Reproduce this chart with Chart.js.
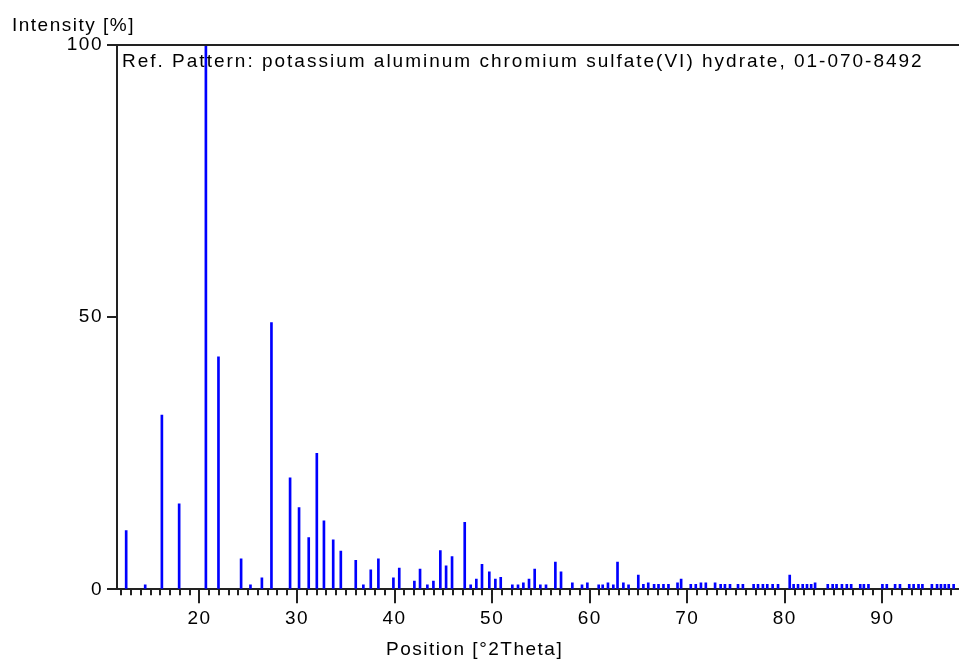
<!DOCTYPE html>
<html>
<head>
<meta charset="utf-8">
<script src="https://cdn.jsdelivr.net/npm/chart.js"></script>
<style>
  html, body { margin: 0; background: #fff; }
  #wrap { width: 959px; height: 662px; position: relative; }
</style>
</head>
<body>
<div id="wrap"><canvas id="c"></canvas></div>
<script>
// reference pattern sticks
const POSITIONS = [
  12.49, 14.44, 16.15, 17.92, 20.66, 21.95, 24.27, 25.23, 26.4, 27.38,
  29.29, 30.21, 31.2, 32.03, 32.76, 33.71, 34.49, 36.02, 36.8, 37.56,
  38.34, 39.88, 40.48, 42.03, 42.61, 43.36, 43.98, 44.69, 45.28, 45.89,
  47.19, 47.8, 48.38, 48.96, 49.71, 50.33, 50.88, 52.07, 52.65, 53.2,
  53.78, 54.36, 54.94, 55.52, 56.48, 57.06, 58.22, 59.21, 59.76, 60.92,
  61.33, 61.87, 62.42, 62.85, 63.45, 63.98, 64.98, 65.5, 66.0, 66.6,
  67.05, 67.56, 68.07, 69.0, 69.37, 70.36, 70.87, 71.4, 71.9, 72.85,
  73.42, 73.86, 74.38, 75.2, 75.7, 76.8, 77.25, 77.75, 78.2, 78.75,
  79.3, 80.5, 80.9, 81.35, 81.83, 82.27, 82.7, 83.1, 84.4, 84.9,
  85.3, 85.85, 86.35, 86.8, 87.73, 88.1, 88.57, 90.0, 90.45, 91.3,
  91.8, 92.75, 93.2, 93.7, 94.1, 95.07, 95.6, 96.0, 96.4, 96.8, 97.3
];
const INTENSITIES = [
  10.8, 0.8, 32.0, 15.7, 100, 42.7, 5.6, 0.8, 2.1, 49.0,
  20.5, 15.0, 9.5, 25.0, 12.6, 9.1, 7.0, 5.3, 0.8, 3.6,
  5.6, 2.1, 3.9, 1.5, 3.7, 0.8, 1.5, 7.1, 4.3, 6.0,
  12.3, 0.8, 1.9, 4.6, 3.2, 1.9, 2.2, 0.8, 0.8, 1.2,
  1.9, 3.7, 0.8, 0.8, 5.0, 3.2, 1.2, 0.8, 1.2, 0.8,
  0.8, 1.2, 0.8, 5.0, 1.2, 0.8, 2.6, 0.9, 1.2, 0.9,
  0.9, 0.9, 0.9, 1.2, 1.9, 0.9, 0.9, 1.2, 1.2, 1.2,
  0.9, 0.9, 0.9, 0.9, 0.9, 0.9, 0.9, 0.9, 0.9, 0.9,
  0.9, 2.6, 0.9, 0.9, 0.9, 0.9, 0.9, 1.2, 0.9, 0.9,
  0.9, 0.9, 0.9, 0.9, 0.9, 0.9, 0.9, 0.9, 0.9, 0.9,
  0.9, 0.9, 0.9, 0.9, 0.9, 0.9, 0.9, 0.9, 0.9, 0.9, 0.9
];
const TITLE = 'Ref. Pattern: potassium aluminum chromium sulfate(VI) hydrate, 01-070-8492';
const Y_TITLE = 'Intensity [%]';
const X_TITLE = 'Position [°2Theta]';
const X_MIN = 11.55, X_MAX = 97.85;
const FONT = "'Liberation Sans', Arial, sans-serif";
const AXIS = '#222';

// frame top line, minor ticks and the texts
const framePlugin = {
  id: 'xrdFrame',
  beforeDraw(chart) { chart.ctx.letterSpacing = '1.5px'; },
  afterDraw(chart) {
    const {ctx, chartArea: a, scales: {x}} = chart;
    ctx.save();
    ctx.strokeStyle = AXIS;
    ctx.lineWidth = 2;
    ctx.beginPath();
    ctx.moveTo(a.left - 2, a.top);
    ctx.lineTo(a.right, a.top);
    ctx.stroke();
    ctx.beginPath();
    for (let v = Math.ceil(X_MIN); v <= X_MAX; v++) {
      if (v % 10 === 0) continue;
      const px = Math.round(x.getPixelForValue(v));
      ctx.moveTo(px, a.bottom);
      ctx.lineTo(px, a.bottom + 6);
    }
    ctx.stroke();
    ctx.fillStyle = '#000';
    ctx.font = '19px ' + FONT;
    ctx.textBaseline = 'alphabetic';
    ctx.textAlign = 'left';
    ctx.letterSpacing = '2px';
    ctx.fillText(TITLE, a.left + 5, a.top + 22);
    ctx.letterSpacing = '1.5px';
    ctx.fillText(Y_TITLE, 12, 30.5);
    ctx.fillText(X_TITLE, 386, 655);
    ctx.restore();
  }
};

new Chart(document.getElementById('c'), {
  type: 'bar',
  data: {
    datasets: [{
      data: POSITIONS.map((p, i) => ({x: p, y: INTENSITIES[i]})),
      backgroundColor: '#0000ff',
      borderWidth: 0,
      barThickness: 2
    }]
  },
  options: {
    responsive: true,
    maintainAspectRatio: false,
    animation: false,
    layout: {padding: {top: 45, right: 0, bottom: 0, left: 0}},
    plugins: {legend: {display: false}, tooltip: {enabled: false}},
    scales: {
      x: {
        type: 'linear', position: 'bottom',
        min: X_MIN, max: X_MAX, offset: false,
        ticks: {stepSize: 10, includeBounds: false, autoSkip: false, maxRotation: 0,
                font: {family: FONT, size: 19}, color: '#000', padding: 4},
        grid: {drawOnChartArea: false, offset: false, tickLength: 14, color: AXIS, lineWidth: 2},
        border: {display: true, color: AXIS, width: 2},
        afterFit: s => { s.height = 72.7; }
      },
      y: {
        min: 0, max: 100,
        ticks: {stepSize: 50, font: {family: FONT, size: 19}, color: '#000', padding: 4},
        grid: {drawOnChartArea: false, tickLength: 10, color: AXIS, lineWidth: 2},
        border: {display: true, color: AXIS, width: 2},
        afterFit: s => { s.width = 117; }
      }
    }
  },
  plugins: [framePlugin]
});
</script>
</body>
</html>
